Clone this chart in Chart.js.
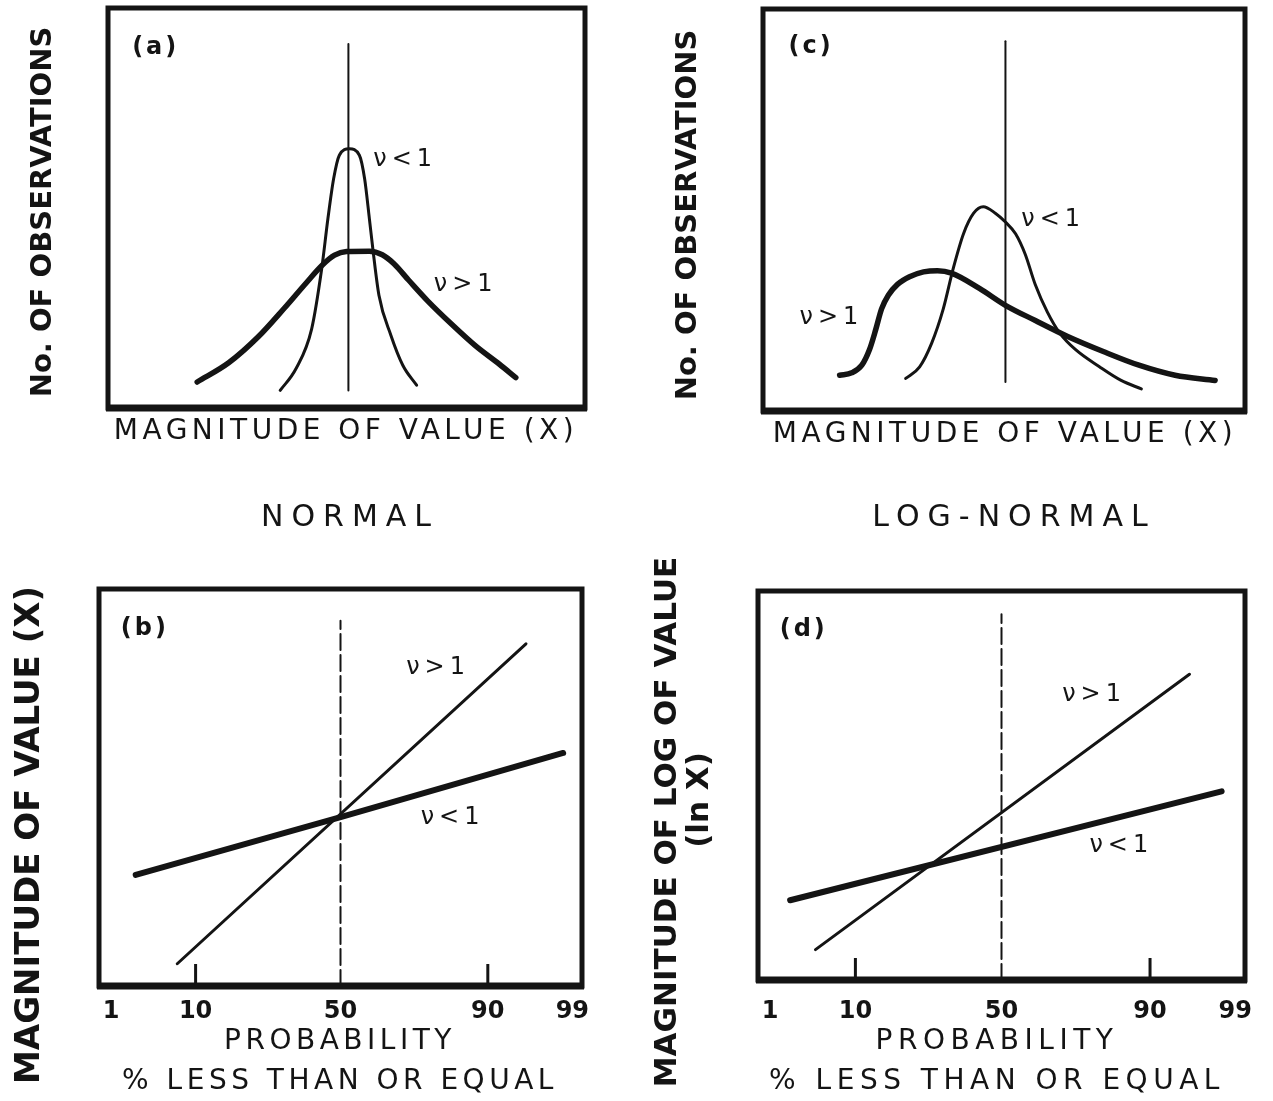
<!DOCTYPE html>
<html>
<head>
<meta charset="utf-8">
<title>Normal and log-normal distributions</title>
<script src="https://cdn.jsdelivr.net/npm/chart.js@4"></script>
<style>
  html, body { margin: 0; padding: 0; background: #fff; overflow: hidden; }
  .panel { position: absolute; }
</style>
</head>
<body>
<canvas id="chartA" class="panel" width="636" height="470" style="left:0;top:0"></canvas>
<canvas id="chartC" class="panel" width="637" height="470" style="left:636px;top:0"></canvas>
<canvas id="chartB" class="panel" width="636" height="631" style="left:0;top:470px"></canvas>
<canvas id="chartD" class="panel" width="637" height="631" style="left:636px;top:470px"></canvas>
<script>
// all panels use arbitrary 0-100 units on both axes

// (a) normal frequency curves
const aNarrowX = [36.1, 39.4, 42.7, 44.8, 46.1, 47.3, 48.5, 50.6, 52.7, 53.8, 54.8, 55.6, 56.8, 59.3, 61.8, 64.7];
const aNarrowY = [4.4, 9.8, 19.8, 34.8, 47.3, 57.3, 63.2, 64.8, 63.2, 57.3, 47.3, 39.0, 28.2, 18.2, 10.7, 5.7];
const aWideX = [18.7, 25.3, 31.5, 37, 41.5, 45, 47.5, 50, 54.8, 57.5, 60, 63, 67, 72, 77, 82, 85.5];
const aWideY = [6.5, 11.3, 17.8, 25, 31.2, 35.8, 38.2, 39.1, 39.2, 38.3, 36, 32, 26.8, 21, 15.6, 11, 7.6];

// (c) log-normal frequency curves
const cNarrowX = [29.6, 32.5, 35.0, 37.4, 39.5, 41.6, 43.7, 45.7, 48.2, 50.3, 52.4, 54.4, 56.5, 59.0, 61.5, 64.8, 69.8, 74.3, 78.5];
const cNarrowY = [8.1, 11.0, 16.9, 25.4, 35.6, 44.1, 49.2, 50.8, 49.2, 47.0, 44.1, 39.0, 31.4, 24.6, 19.5, 15.3, 11.0, 7.6, 5.5];
const cWideX = [15.9, 18.4, 20.5, 22.1, 23.4, 24.6, 26.0, 27.9, 30.4, 33.3, 36.2, 39.1, 44.9, 50.3, 56.5, 63.1, 70.6, 78.0, 85.5, 93.8];
const cWideY = [8.9, 9.5, 11.4, 15.3, 20.3, 25.4, 28.8, 31.5, 33.4, 34.6, 34.9, 34.3, 30.5, 26.3, 22.5, 18.6, 14.8, 11.4, 8.9, 7.6];

// probability axis (b, d)
const probTickLabels = ['1', '10', '50', '90', '99'];
const probTickPos = [2.5, 20, 50, 80.5, 98];

// (b) normal probability plot
const bSteepX = [16.2, 88.4];
const bSteepY = [5.6, 86.2];
const bFlatX = [7.6, 50.2, 96.1];
const bFlatY = [28.0, 42.6, 58.7];

// (d) log-normal probability plot
const dSteepX = [11.8, 88.6];
const dSteepY = [7.8, 78.6];
const dFlatX = [6.6, 95.2];
const dFlatY = [20.5, 48.5];

const ink = '#141414';
const FONT = '"DejaVu Sans", sans-serif';

const pts = (xs, ys) => xs.map((x, i) => ({ x: x, y: ys[i] }));

function curve(xs, ys, width, smooth, dash) {
  return {
    data: pts(xs, ys),
    borderColor: ink,
    borderWidth: width,
    borderDash: dash || [],
    borderCapStyle: 'round',
    borderJoinStyle: 'round',
    cubicInterpolationMode: smooth ? 'monotone' : 'default',
    tension: 0,
    pointRadius: 0,
    fill: false
  };
}

// frame, inner tick marks and all lettering
function notes(titles, labels, innerTicks) {
  return {
    id: 'notes',
    afterDraw(chart) {
      const ctx = chart.ctx;
      const a = chart.chartArea;
      const sx = chart.scales.x, sy = chart.scales.y;
      ctx.save();
      ctx.strokeStyle = ink;
      ctx.lineWidth = 5;
      ctx.strokeRect(a.left, a.top, a.right - a.left, a.bottom - a.top);
      ctx.lineWidth = 7;
      ctx.beginPath();
      ctx.moveTo(a.left - 2, a.bottom);
      ctx.lineTo(a.right + 2, a.bottom);
      ctx.stroke();

      ctx.lineWidth = 3;
      (innerTicks || []).forEach(v => {
        const px = sx.getPixelForValue(v);
        ctx.beginPath();
        ctx.moveTo(px, a.bottom);
        ctx.lineTo(px, a.bottom - 22);
        ctx.stroke();
      });

      ctx.fillStyle = ink;
      ctx.textAlign = 'center';
      ctx.textBaseline = 'middle';
      const put = (t, x, y) => {
        ctx.save();
        ctx.font = t.font;
        ctx.letterSpacing = (t.sp || 0) + 'px';
        ctx.translate(x, y);
        if (t.rot) ctx.rotate(t.rot * Math.PI / 180);
        ctx.fillText(t.text, 0, 0);
        ctx.restore();
      };
      titles.forEach(t => put(t, t.x, t.y));
      labels.forEach(t => put(t, sx.getPixelForValue(t.x), sy.getPixelForValue(t.y)));
      ctx.restore();
    }
  };
}

const plainAxis = { type: 'linear', min: 0, max: 100, display: false };

function probAxis(pad) {
  return {
    type: 'linear', min: 0, max: 100,
    grid: { display: false, drawTicks: false },
    border: { display: false },
    afterBuildTicks: s => { s.ticks = probTickPos.map(v => ({ value: v })); },
    afterFit: s => { s.paddingLeft = 0; s.paddingRight = 0; },
    ticks: {
      autoSkip: false, maxRotation: 0, padding: pad, color: ink,
      font: { family: FONT, size: 24, weight: 'bold' },
      callback: (v, i) => probTickLabels[i]
    }
  };
}

function panel(id, datasets, pad, xAxis, plugin) {
  return new Chart(document.getElementById(id), {
    type: 'line',
    data: { datasets: datasets },
    options: {
      responsive: false,
      animation: false,
      events: [],
      layout: { padding: pad },
      plugins: { legend: { display: false }, tooltip: { enabled: false } },
      scales: { x: xAxis, y: { type: 'linear', min: 0, max: 100, display: false } }
    },
    plugins: [plugin]
  });
}

const yFont = 'bold 29px ' + FONT;
const xFont = '28px ' + FONT;
const tagFont = 'bold 24px ' + FONT;
const nuFont = '24px ' + FONT;

// (a)
panel('chartA', [
  curve([50.4, 50.4], [4.4, 91], 2, false),
  curve(aNarrowX, aNarrowY, 3, true),
  curve(aWideX, aWideY, 5.5, true)
], { left: 108, top: 8, right: 51, bottom: 62 }, plainAxis, notes(
  [
    { text: 'No. OF OBSERVATIONS', x: 43, y: 212, rot: -90, font: yFont },
    { text: 'MAGNITUDE OF VALUE (X)', x: 346, y: 432, font: xFont, sp: 4.5 }
  ],
  [
    { text: '(a)', x: 10, y: 90, font: tagFont, sp: 3 },
    { text: 'ν<1', x: 62.3, y: 62, font: nuFont, sp: 5 },
    { text: 'ν>1', x: 75, y: 30.7, font: nuFont, sp: 5 }
  ]
));

// (c)
panel('chartC', [
  curve([50.3, 50.3], [7.2, 92], 2, false),
  curve(cNarrowX, cNarrowY, 3, true),
  curve(cWideX, cWideY, 5.5, true)
], { left: 127, top: 9, right: 28, bottom: 59 }, plainAxis, notes(
  [
    { text: 'No. OF OBSERVATIONS', x: 52, y: 215, rot: -90, font: yFont },
    { text: 'MAGNITUDE OF VALUE (X)', x: 369, y: 435, font: xFont, sp: 4.5 }
  ],
  [
    { text: '(c)', x: 10, y: 90.5, font: tagFont, sp: 3 },
    { text: 'ν<1', x: 60.2, y: 47.5, font: nuFont, sp: 5 },
    { text: 'ν>1', x: 14.2, y: 23.3, font: nuFont, sp: 5 }
  ]
));

// (b)
panel('chartB', [
  curve([probTickPos[2], probTickPos[2]], [0, 92], 2, false, [16, 5]),
  curve(bSteepX, bSteepY, 3, false),
  curve(bFlatX, bFlatY, 6, false)
], { left: 99, top: 119, right: 54, bottom: 63 }, probAxis(11.6), notes(
  [
    { text: 'NORMAL', x: 350, y: 48, font: '30px ' + FONT, sp: 8 },
    { text: 'MAGNITUDE OF VALUE (X)', x: 30, y: 365, rot: -90, font: 'bold 34px ' + FONT },
    { text: 'PROBABILITY', x: 340, y: 572, font: xFont, sp: 4.5 },
    { text: '% LESS THAN OR EQUAL', x: 340, y: 612, font: xFont, sp: 4.5 }
  ],
  [
    { text: '(b)', x: 9.5, y: 90, font: tagFont, sp: 3 },
    { text: 'ν>1', x: 70.2, y: 80.2, font: nuFont, sp: 5 },
    { text: 'ν<1', x: 73.2, y: 42.4, font: nuFont, sp: 5 }
  ],
  [probTickPos[1], probTickPos[3]]
));

// (d)
panel('chartD', [
  curve([probTickPos[2], probTickPos[2]], [0, 94], 2, false, [16, 5]),
  curve(dSteepX, dSteepY, 3, false),
  curve(dFlatX, dFlatY, 6, false)
], { left: 122, top: 121, right: 28, bottom: 57 }, probAxis(17.6), notes(
  [
    { text: 'LOG-NORMAL', x: 378, y: 48, font: '30px ' + FONT, sp: 8 },
    { text: 'MAGNITUDE OF LOG OF VALUE', x: 32, y: 352, rot: -90, font: 'bold 31px ' + FONT },
    { text: '(ln X)', x: 64, y: 330, rot: -90, font: 'bold 31px ' + FONT },
    { text: 'PROBABILITY', x: 361, y: 572, font: xFont, sp: 5.5 },
    { text: '% LESS THAN OR EQUAL', x: 361, y: 612, font: xFont, sp: 5.5 }
  ],
  [
    { text: '(d)', x: 9.4, y: 90, font: tagFont, sp: 3 },
    { text: 'ν>1', x: 69, y: 73.2, font: nuFont, sp: 5 },
    { text: 'ν<1', x: 74.6, y: 34.6, font: nuFont, sp: 5 }
  ],
  [probTickPos[1], probTickPos[3]]
));
</script>
</body>
</html>
